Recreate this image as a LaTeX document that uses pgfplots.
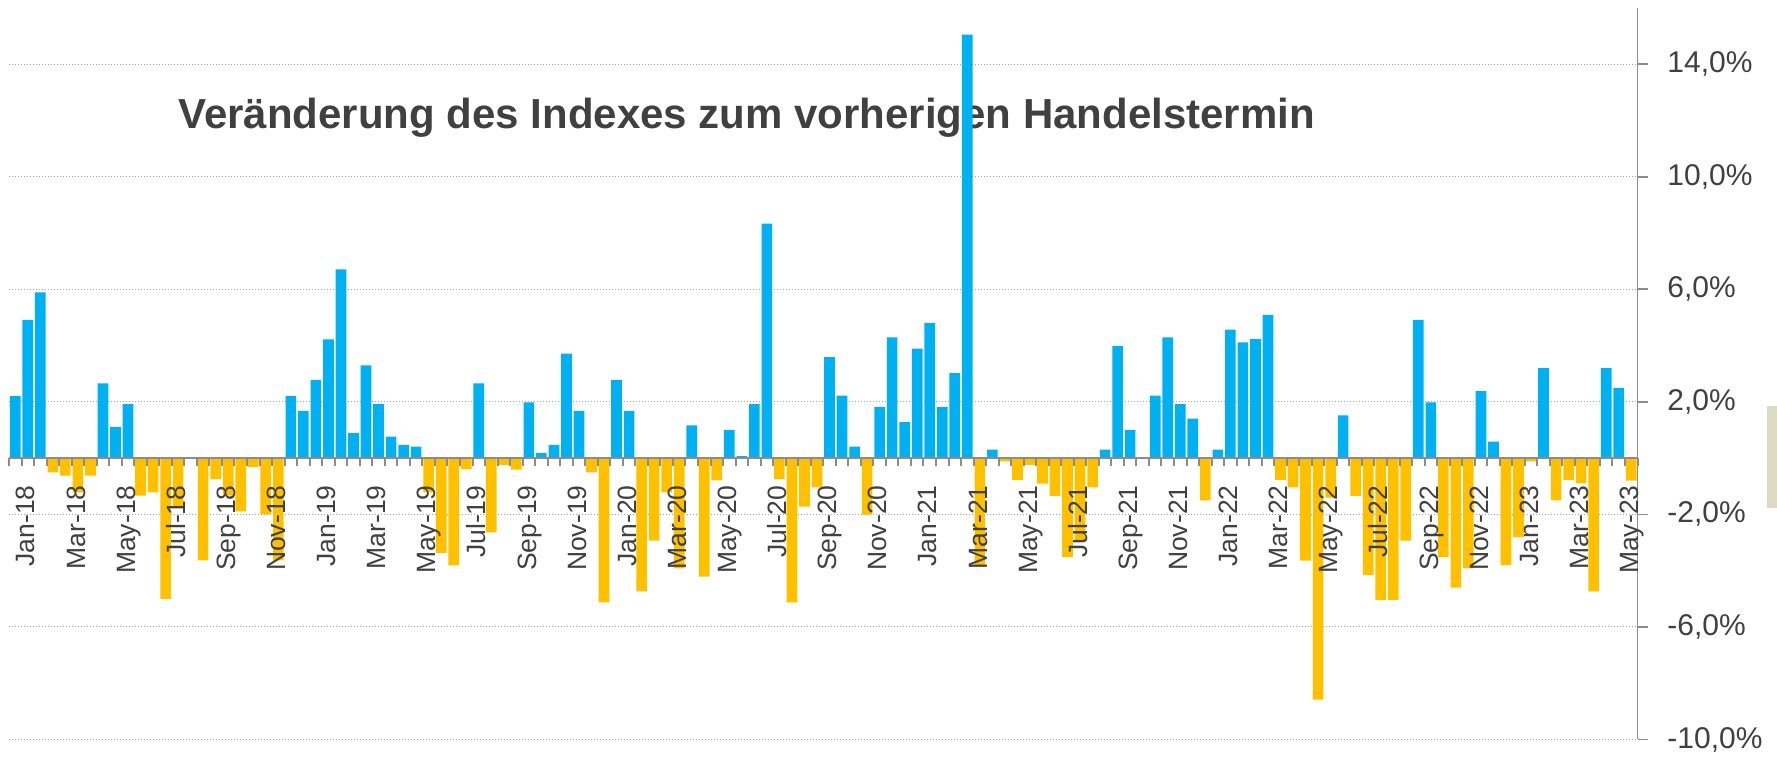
\documentclass[border=0pt]{standalone}
\usepackage{pgfplots}
\pgfplotsset{compat=1.18}
\usepackage{pgfplotstable}
\usepackage{fontspec}
\setmainfont{Liberation Sans}
\definecolor{barblue}{HTML}{00B0F0}
\definecolor{baryellow}{HTML}{FFC000}
\definecolor{txtgray}{HTML}{404040}
\definecolor{axgray}{HTML}{8C8C8C}
\definecolor{gridgray}{HTML}{A0A0A0}
\definecolor{beige}{HTML}{DDD9C3}
\pgfplotsset{layers/mylayers/.define layer set={axis background,axis grid,main,axis ticks,axis lines,axis tick labels,axis descriptions,axis foreground}{
  grid style={/pgfplots/on layer=axis grid},
  tick style={/pgfplots/on layer=axis ticks},
  axis line style={/pgfplots/on layer=axis lines},
  label style={/pgfplots/on layer=axis descriptions},
  legend style={/pgfplots/on layer=axis descriptions},
  title style={/pgfplots/on layer=axis descriptions},
  ticklabel style={/pgfplots/on layer=axis tick labels},
  axis background@ style={/pgfplots/on layer=axis background},
}}

\pgfplotstableread{
x y
0 2.21
1 4.91
2 5.89
3 -0.51
4 -0.62
5 -1.22
6 -0.62
7 2.66
8 1.10
9 1.92
10 -1.33
11 -1.22
12 -5.00
13 -1.72
14 0
15 -3.63
16 -0.75
17 -1.33
18 -1.89
19 -0.32
20 -2.00
21 -3.63
22 2.21
23 1.68
24 2.78
25 4.22
26 6.71
27 0.89
28 3.30
29 1.92
30 0.76
31 0.47
32 0.41
33 -1.22
34 -3.37
35 -3.81
36 -0.39
37 2.66
38 -2.64
39 -0.24
40 -0.41
41 1.98
42 0.19
43 0.47
44 3.71
45 1.68
46 -0.51
47 -5.13
48 2.78
49 1.68
50 -4.74
51 -2.93
52 -1.22
53 -3.92
54 1.16
55 -4.21
56 -0.79
57 1.00
58 0.07
59 1.92
60 8.33
61 -0.75
62 -5.13
63 -1.72
64 -1.04
65 3.59
66 2.22
67 0.41
68 -2.01
69 1.81
70 4.29
71 1.28
72 3.89
73 4.81
74 1.81
75 3.02
76 15.05
77 -3.80
78 0.30
79 -0.12
80 -0.77
81 -0.24
82 -0.91
83 -1.34
84 -3.52
85 -2.93
86 -1.04
87 0.30
88 3.99
89 1.00
90 0
91 2.22
92 4.29
93 1.92
94 1.40
95 -1.50
96 0.30
97 4.57
98 4.11
99 4.23
100 5.09
101 -0.77
102 -1.04
103 -3.64
104 -8.58
105 -1.40
106 1.52
107 -1.34
108 -4.15
109 -5.04
110 -5.04
111 -2.93
112 4.91
113 1.98
114 -3.52
115 -4.60
116 -3.92
117 2.38
118 0.59
119 -3.80
120 -2.81
121 -0.12
122 3.20
123 -1.50
124 -0.77
125 -0.90
126 -4.74
127 3.20
128 2.50
129 -0.80
}\datatable

\begin{document}
\begin{tikzpicture}
\node[anchor=base west, inner sep=0pt, text=txtgray, font=\fontsize{21}{25}\selectfont\bfseries] at (89pt,315.5pt) {Veränderung des Indexes zum vorherigen Handelstermin};
\fill[beige] (883.35pt,126pt) rectangle (888.5pt,177pt);
\begin{axis}[
  set layers=mylayers,
  at={(4.5pt,10.25pt)}, anchor=south west,
  scale only axis, width=814.25pt, height=365.8pt,
  xmin=-0.5, xmax=129.5, ymin=-10, ymax=16,
  axis x line=middle, axis y line=right,
  x axis line style={-, draw=axgray, line width=1pt},
  y axis line style={-, draw=axgray, line width=0.85pt},
  xtick={1,5,...,129},
  xticklabels={Jan-18,Mar-18,May-18,Jul-18,Sep-18,Nov-18,Jan-19,Mar-19,May-19,Jul-19,Sep-19,Nov-19,Jan-20,Mar-20,May-20,Jul-20,Sep-20,Nov-20,Jan-21,Mar-21,May-21,Jul-21,Sep-21,Nov-21,Jan-22,Mar-22,May-22,Jul-22,Sep-22,Nov-22,Jan-23,Mar-23,May-23},
  every major x tick/.append style={draw=none},
  minor xtick={-0.5,0.5,...,129.5},
  every minor x tick/.append style={draw=axgray, line width=1pt},
  xtick align=outside,
  minor tick length=4pt,
  xticklabel style={font=\fontsize{13.25}{16}\selectfont, text=txtgray, yshift=-8.5pt, rotate=90, anchor=east, inner sep=0pt, text height=0.72em, text depth=0pt},
  ytick={-10,-6,-2,2,6,10,14},
  yticklabels={{-10,0\%},{-6,0\%},{-2,0\%},{2,0\%},{6,0\%},{10,0\%},{14,0\%}},
  ytick align=outside,
  major tick length=5pt,
  every major y tick/.append style={draw=axgray, line width=0.85pt},
  yticklabel style={font=\fontsize{15}{18}\selectfont, text=txtgray, anchor=west, inner sep=0pt, xshift=9.75pt},
  ymajorgrids,
  major grid style={draw=gridgray, line width=0.5pt, dash pattern=on 0.5pt off 1pt},
]
\addplot[ybar, bar width=0.85, bar shift=0pt, fill=barblue, draw=none, restrict y to domain=0:100] table[x=x,y=y]{\datatable};
\addplot[ybar, bar width=0.85, bar shift=0pt, fill=baryellow, draw=none, restrict y to domain=-100:0] table[x=x,y=y]{\datatable};
\end{axis}
\pgfresetboundingbox
\useasboundingbox (0,0) rectangle (888.5pt,380pt);
\end{tikzpicture}
\end{document}
